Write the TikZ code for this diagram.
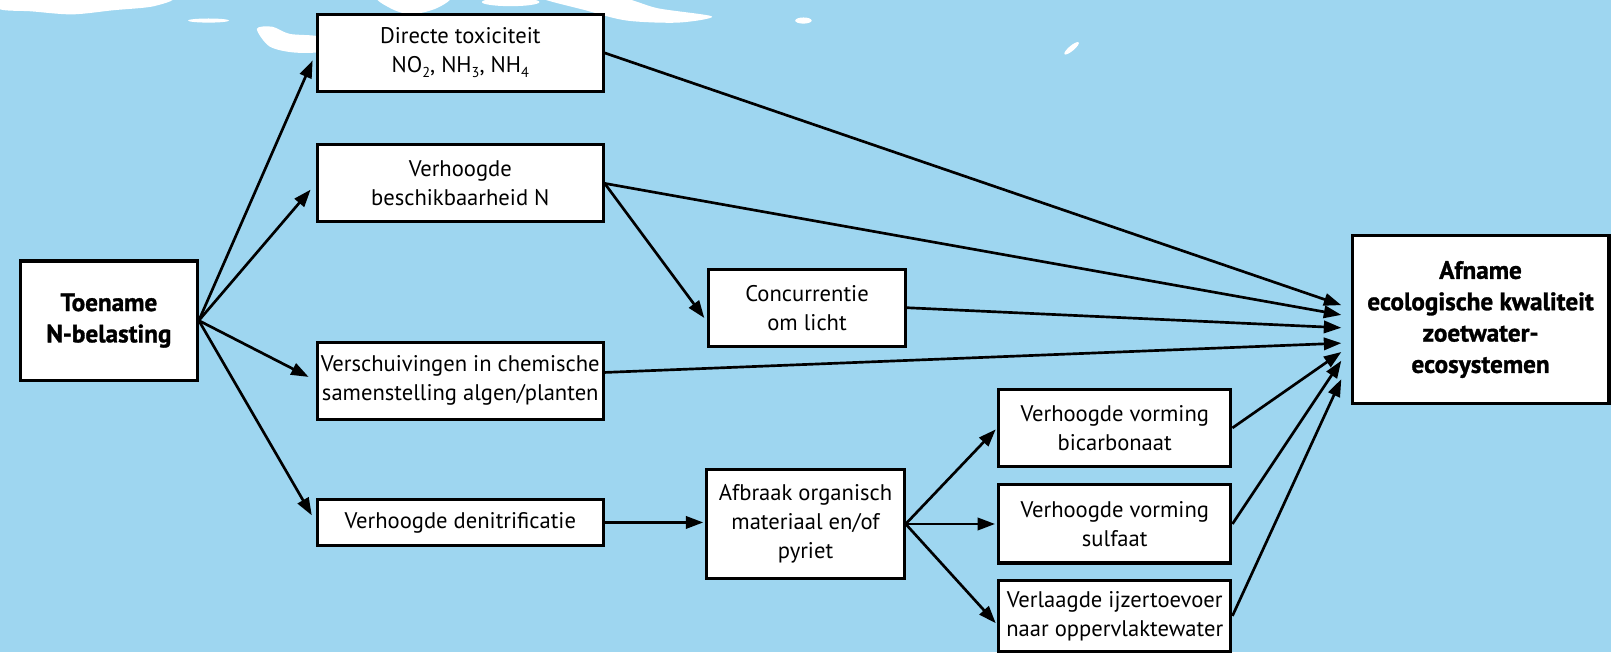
\documentclass[tikz,border=0pt]{standalone}
\usepackage{fontspec}
\setmainfont{PT Sans}
\newfontfamily\heavyfont[FakeBold=1.2]{PT Sans Bold}
\usetikzlibrary{arrows.meta,calc}
\definecolor{bgblue}{RGB}{158,214,240}
\newcommand{\lowsub}[1]{\raisebox{-0.45ex}{\fontsize{14}{14}\selectfont #1}}
\begin{document}
\begin{tikzpicture}[x=1pt,y=-1pt,
  box/.style={draw=black,line width=3pt,fill=white,align=center,inner sep=0pt,
    font=\fontsize{22}{28}\selectfont},
  bbox/.style={box,font=\fontsize{24.5}{30.5}\heavyfont},
  arr/.style={line width=2.6pt,-{Triangle[length=17pt,width=12pt]}},
  cloudfill/.style={fill=white,draw=none}]
\fill[bgblue] (0,0) rectangle (1568,635);
\useasboundingbox (0,0) rectangle (1568,635);
% clouds
\fill[cloudfill] plot[smooth cycle] coordinates {(-5,-3) (160,-3) (150,6) (110,10) (70,14) (30,11) (0,9)};
\fill[cloudfill] (203,20) ellipse [x radius=20,y radius=2];
\fill[cloudfill] plot[smooth cycle] coordinates {(250,28) (265,26) (282,33) (312,36) (312,50) (285,51) (262,45)};
\fill[cloudfill] plot[smooth cycle] coordinates {(369,-3) (436,-3) (425,8) (400,14) (380,8)};
\fill[cloudfill] (497,2) ellipse [x radius=28,y radius=4];
\fill[cloudfill] plot[smooth cycle] coordinates {(526,-3) (600,-3) (640,8) (693,16) (660,22) (610,20) (570,10)};
\fill[cloudfill] (782,20) ellipse [x radius=8,y radius=3];
\fill[cloudfill] (1043,47) ellipse [x radius=9,y radius=2.5,rotate=40];
% nodes
\node[bbox,minimum width=172,minimum height=116] (toe) at (106,312) {Toename\\N-belasting};
\node[box,minimum width=278,minimum height=75] (dir) at (448,51.5) {Directe toxiciteit\\NO\lowsub{2}, NH\lowsub{3}, NH\lowsub{4}};
\node[box,minimum width=278,minimum height=75] (bes) at (448,178.5) {Verhoogde\\beschikbaarheid N};
\node[box,minimum width=191,minimum height=75] (con) at (785.5,299.5) {Concurrentie\\om licht};
\node[box,minimum width=278,minimum height=75] (ver) at (448,370.5) {Verschuivingen in chemische\\samenstelling algen/planten};
\node[box,minimum width=278,minimum height=45] (den) at (448,508.5) {Verhoogde denitrificatie};
\node[box,minimum width=192,minimum height=106] (afb) at (784,510) {Afbraak organisch\\materiaal en/of\\pyriet};
\node[box,minimum width=226,minimum height=75] (bic) at (1085,416.5) {Verhoogde vorming\\bicarbonaat};
\node[box,minimum width=226,minimum height=76] (sul) at (1085,510) {Verhoogde vorming\\sulfaat};
\node[box,minimum width=226,minimum height=69] (vla) at (1085,599.5) {Verlaagde ijzertoevoer\\naar oppervlaktewater};
\node[bbox,minimum width=250,minimum height=164] (afn) at (1441,311) {Afname\\ecologische kwaliteit\\zoetwater-\\ecosystemen};
% arrows from Toename
\draw[arr,shorten >=8pt] (toe.east) -- (dir.west);
\draw[arr,shorten >=8pt] (toe.east) -- (bes.west);
\draw[arr,shorten >=8pt] (toe.east) -- (ver.west);
\draw[arr,shorten >=8pt] (toe.east) -- (den.west);
% to Afname
\draw[arr] (dir.east) -- ($(afn.west)+(-9,-14)$);
\draw[arr] (bes.east) -- ($(afn.west)+(-9,-4.5)$);
\draw[arr] (bes.east) -- ($(con.west)+(-3,10)$);
\draw[arr] (con.east) -- ($(afn.west)+(-9,8)$);
\draw[arr] ($(ver.east)+(0,-8)$) -- ($(afn.west)+(-9,23)$);
\draw[arr] (bic.east) -- ($(afn.west)+(-9,31.6)$);
\draw[arr] (sul.east) -- ($(afn.west)+(-9,40)$);
\draw[arr] (vla.east) -- ($(afn.west)+(-9,58)$);
% denitrificatie chain
\draw[arr,shorten >=2pt] (den.east) -- (den.east -| afb.west);
\draw[arr,shorten >=2pt] (afb.east) -- (bic.west);
\draw[arr,shorten >=2pt] (afb.east) -- (sul.west);
\draw[arr,shorten >=2pt] (afb.east) -- ($(vla.west)+(0,8.5)$);
\end{tikzpicture}
\end{document}
